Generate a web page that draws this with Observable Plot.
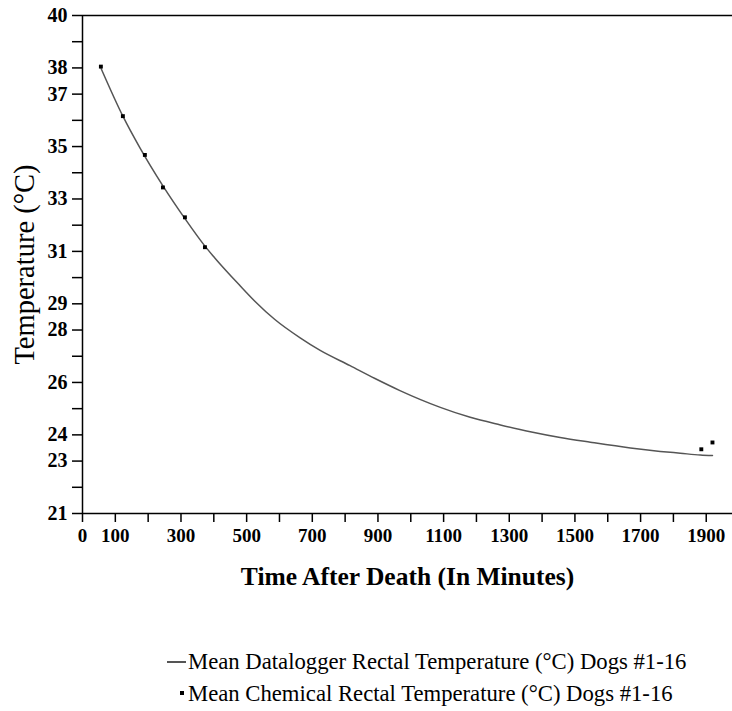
<!DOCTYPE html>
<html><head><meta charset="utf-8">
<script src="https://cdn.jsdelivr.net/npm/d3@7"></script>
<script src="https://cdn.jsdelivr.net/npm/@observablehq/plot@0.6"></script>
<style>
body{margin:0;background:#fff;width:732px;height:711px;overflow:hidden;position:relative}
.lg{position:absolute;font-family:"Liberation Serif","Times New Roman",serif;font-size:22.7px;color:#000;white-space:nowrap;line-height:24px}
.sw{position:absolute}
</style></head><body>
<div id="chart"></div>
<div class="sw" style="left:167px;top:661px;width:19px;height:2px;background:#555"></div>
<div class="lg" id="lg1" style="left:188px;top:650px"></div>
<div class="sw" style="left:180px;top:691px;width:4px;height:4px;background:#000"></div>
<div class="lg" id="lg2" style="left:188px;top:682px"></div>
<script>
const curveMinutes = [57, 123, 175, 245, 312, 373, 403, 480, 525, 586, 663, 724, 815, 891, 967, 1090, 1181, 1273, 1364, 1455, 1547, 1669, 1760, 1821, 1882, 1919];
const curveTemp = [37.97, 36.16, 34.95, 33.5, 32.25, 31.2, 30.75, 29.69, 29.1, 28.4, 27.7, 27.22, 26.64, 26.15, 25.69, 25.05, 24.67, 24.38, 24.12, 23.9, 23.72, 23.5, 23.37, 23.3, 23.23, 23.21];
const chemMinutes = [56, 123, 190, 245, 312, 373, 1885, 1919];
const chemTemp = [38.05, 36.16, 34.68, 33.44, 32.3, 31.16, 23.45, 23.71];
const yTickLabels = [40, 38, 37, 35, 33, 31, 29, 28, 26, 24, 23, 21];
const xTickLabels = [0, 100, 300, 500, 700, 900, 1100, 1300, 1500, 1700, 1900];
const xTitle = "Time After Death (In Minutes)";
const yTitle = "Temperature (°C)";
const legendLabels = ["Mean Datalogger Rectal Temperature (°C) Dogs #1-16", "Mean Chemical Rectal Temperature (°C) Dogs #1-16"];

document.getElementById("lg1").textContent = legendLabels[0];
document.getElementById("lg2").textContent = legendLabels[1];

const serif = "'Liberation Serif', 'Times New Roman', serif";
const curve = curveMinutes.map((m, i) => ({m, t: curveTemp[i]}));
const chem = chemMinutes.map((m, i) => ({m, t: chemTemp[i]}));

const plot = Plot.plot({
  width: 732, height: 610,
  marginTop: 15, marginLeft: 82, marginRight: 0, marginBottom: 97,
  style: {fontFamily: serif, background: "#fff", color: "#000"},
  x: {domain: [0, 1980]},
  y: {domain: [21, 40]},
  marks: [
    Plot.axisY({ticks: d3.range(21, 41), tickSize: 10, tickPadding: 5, strokeWidth: 1.5,
      tickFormat: d => yTickLabels.includes(d) ? String(d) : "", fontSize: 20, fontWeight: "bold", fontFamily: serif, label: null}),
    Plot.axisX({ticks: d3.range(0, 2000, 100), tickSize: 9, tickPadding: 6, strokeWidth: 1.5,
      tickFormat: d => xTickLabels.includes(d) ? String(d) : "", fontSize: 19, fontWeight: "bold", fontFamily: serif, label: null}),
    Plot.ruleX([0], {stroke: "#000", strokeWidth: 1.5}),
    Plot.ruleY([21], {stroke: "#000", strokeWidth: 1.5}),
    Plot.ruleY([40], {stroke: "#000", strokeWidth: 1.5}),
    Plot.line(curve, {x: "m", y: "t", stroke: "#555", strokeWidth: 1.5, curve: "monotone-x"}),
    Plot.dot(chem, {x: "m", y: "t", symbol: "square", r: 2.2, fill: "#000", stroke: "none"}),
    Plot.text([yTitle], {frameAnchor: "left", textAnchor: "middle", lineAnchor: "middle", dx: -58, rotate: -90, fontSize: 28.5, fontFamily: serif, fill: "#000"}),
    Plot.text([xTitle], {frameAnchor: "bottom", textAnchor: "middle", lineAnchor: "middle", dy: 63, fontSize: 25.5, fontWeight: "bold", fontFamily: serif, fill: "#000"})
  ]
});
document.getElementById("chart").appendChild(plot);
</script>
</body></html>
